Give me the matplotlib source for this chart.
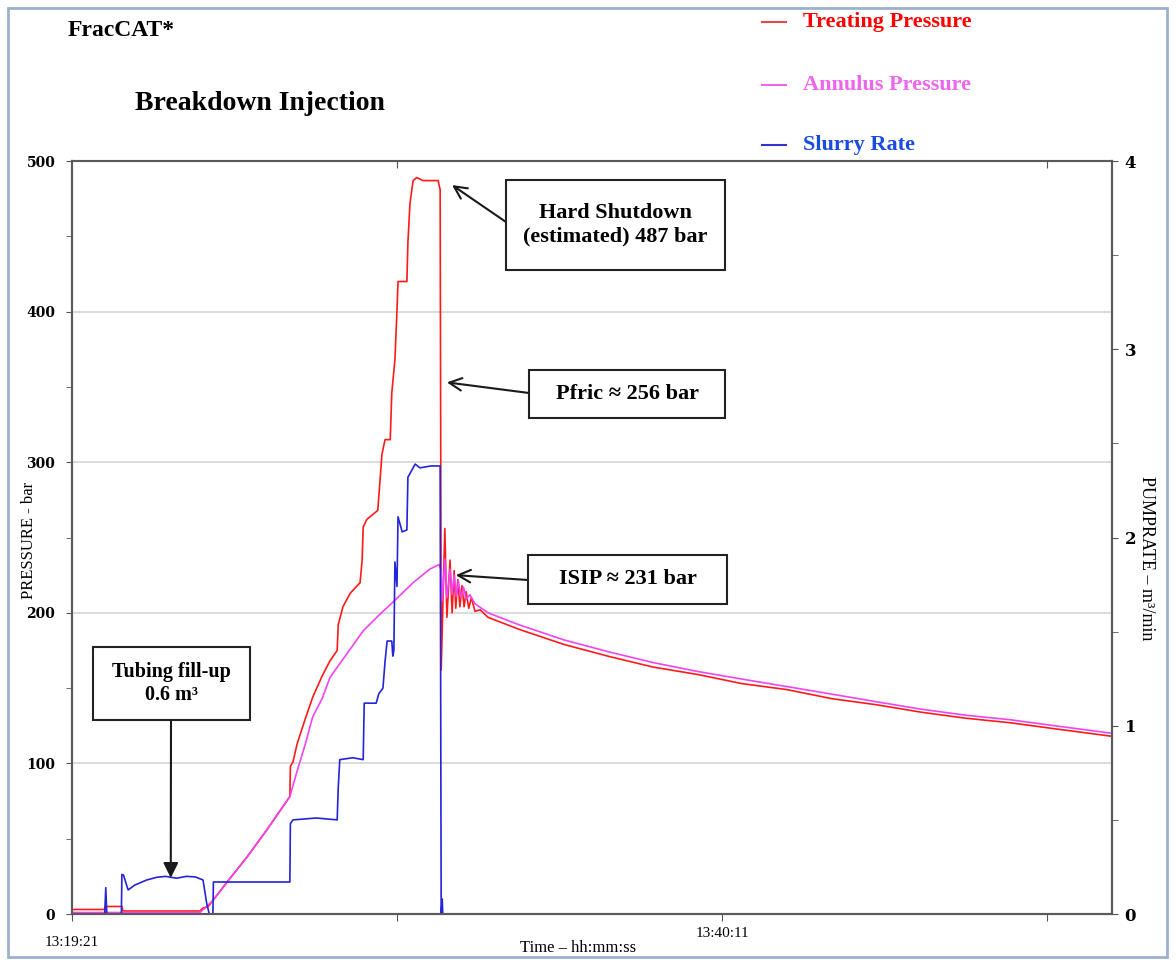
import numpy as np
import matplotlib
matplotlib.use("Agg")
import matplotlib.pyplot as plt
from matplotlib.patches import Rectangle
from matplotlib.lines import Line2D

# time axis in seconds after 13:19:21
t_treat = [0, 62, 64, 96, 98, 246, 252, 262, 271, 300, 337, 375, 419, 420, 425, 433,
           448, 463, 481, 496, 506, 510, 512, 521, 535, 554, 558, 560, 567, 588, 592,
           596, 602, 612, 615, 621, 625, 627, 644, 646, 650, 656, 663, 675, 704, 708,
           710, 717, 721, 727, 731, 735, 738, 742, 746, 750, 754, 758, 763, 768, 775,
           785, 800, 860, 946, 1033, 1117, 1204, 1288, 1375, 1461, 1546, 1633, 1719,
           1804, 1890, 2000]
p_treat = [3, 3, 5, 5, 2, 2, 4, 5, 9, 22, 38, 56, 78, 98, 101, 113,
           129, 144, 158, 168, 173, 175, 192, 204, 213, 220, 235, 257, 262, 268, 286,
           305, 315, 315, 346, 368, 401, 420, 420, 446, 472, 487, 489, 487, 487, 481,
           162, 256, 197, 235, 200, 228, 203, 222, 204, 218, 204, 214, 203, 210, 201,
           202, 197, 189, 179, 171, 164, 159, 153, 149, 143, 139, 134, 130,
           127, 123, 118]

t_ann = [0, 246, 256, 262, 271, 300, 337, 375, 419, 433, 448, 463, 481, 496, 529,
         560, 592, 617, 656, 688, 706, 710, 712, 717, 721, 727, 731, 735, 739, 743,
         748, 753, 758, 765, 775, 800, 860, 946, 1033, 1117, 1204, 1288, 1375, 1461,
         1546, 1633, 1719, 1804, 1890, 2000]
p_ann = [1, 1, 4, 6, 9, 22, 38, 56, 78, 95, 112, 131, 143, 157, 173,
         188, 199, 207, 220, 229, 232, 228, 208, 236, 210, 229, 212, 225, 211, 221,
         210, 217, 209, 212, 206, 200, 192, 182, 174, 167, 161, 156, 151, 146,
         141, 136, 132, 129, 125, 120]

t_rate = [0, 63, 65, 67, 95, 96, 99, 108, 121, 144, 163, 180, 201, 220, 237, 252,
          259, 264, 271, 272, 350, 419, 420, 425, 470, 510, 512, 515, 540, 560, 562,
          585, 590, 598, 602, 606, 615, 617, 619, 621, 625, 627, 635, 644, 646, 654,
          660, 669, 690, 708, 710, 712, 713, 715, 2000]
r_rate = [0, 0, 0.14, 0, 0, 0.21, 0.207, 0.128, 0.154, 0.181, 0.195, 0.2, 0.19, 0.2,
          0.197, 0.181, 0.058, 0, 0, 0.17, 0.17, 0.17, 0.48, 0.5, 0.51, 0.5, 0.67,
          0.82, 0.83, 0.82, 1.12, 1.12, 1.17, 1.2, 1.34, 1.45, 1.45, 1.37, 1.4, 1.87,
          1.74, 2.11, 2.03, 2.04, 2.32, 2.36, 2.39, 2.37, 2.38, 2.38, 0, 0.08, 0, 0, 0]

time_ticks = [0, 625, 1250, 1875]
time_labels = ["13:19:21", "", "13:40:11", ""]

RED = "#FF1A1A"
PINK = "#F044F0"
BLUE = "#2424D8"
SERIF = ["Liberation Serif", "DejaVu Serif"]

plt.rcParams["font.family"] = SERIF

fig = plt.figure(figsize=(11.76, 9.67), dpi=100)
ax = fig.add_axes([0.0612, 0.0548, 0.8844, 0.7787])
ax.plot(t_treat, p_treat, color=RED, lw=1.2, zorder=3)
ax.plot(t_ann, p_ann, color=PINK, lw=1.2, zorder=4)
ax.set_xlim(0, 2000)
ax.set_ylim(0, 500)
ax.set_yticks(np.arange(0, 501, 100))
ax.set_yticks(np.arange(0, 501, 50), minor=True)
ax.yaxis.grid(True, color="#D6D6D6", lw=1.2)
ax.set_axisbelow(True)
ax.set_xticks(time_ticks)
ax.set_xticklabels(time_labels, fontsize=11)
ax.get_xticklabels()[0].set_y(-0.012)
for lab in ax.get_yticklabels():
    lab.set_fontfamily("DejaVu Serif")
    lab.set_fontweight("bold")
    lab.set_fontsize(10)
ax.tick_params(axis="y", which="both", direction="out", length=4, pad=8, color="#555555")
ax.tick_params(axis="x", direction="out", length=5, pad=4, color="#555555")

ax2 = ax.twinx()
ax2.plot(t_rate, r_rate, color=BLUE, lw=1.2)
ax2.set_ylim(0, 4)
ax2.set_yticks(np.arange(0, 4.1, 1))
ax2.set_yticks(np.arange(0, 4.1, 0.5), minor=True)
for lab in ax2.get_yticklabels():
    lab.set_fontfamily("DejaVu Serif")
    lab.set_fontweight("bold")
    lab.set_fontsize(12)
ax2.tick_params(axis="y", which="both", direction="out", length=4, pad=5, color="#555555")

top = ax.secondary_xaxis("top")
top.set_xticks([625, 1875])
top.set_xticklabels(["", ""])
top.tick_params(direction="in", length=5, color="#555555")
top.spines["top"].set_visible(False)

for a in (ax, ax2):
    for s in a.spines.values():
        s.set_color("#5A5A5A")
        s.set_linewidth(1.5)
ax.spines["top"].set_color("#9A9A9A")

# figure frame
fig.add_artist(Rectangle((8 / 1176, 1 - 957 / 967), 1159 / 1176, 949 / 967,
                         transform=fig.transFigure, fill=False,
                         edgecolor="#9DB1CC", lw=2))

fig.text(68 / 1176, 1 - 30 / 967, "FracCAT*", fontsize=17, fontweight="bold",
         va="center", ha="left")
fig.text(260 / 1176, 1 - 104 / 967, "Breakdown Injection", fontsize=20,
         fontweight="bold", va="center", ha="center")

# legend
legend_items = [("Treating Pressure", "#FF0000", "#E84848", 22),
                ("Annulus Pressure", "#EE66EE", "#EE66EE", 85),
                ("Slurry Rate", "#1A4BE0", "#3434CC", 145)]
for name, tcol, lcol, yy in legend_items:
    fig.add_artist(Line2D([762 / 1176, 786 / 1176], [1 - yy / 967, 1 - yy / 967],
                          transform=fig.transFigure, color=lcol, lw=1.5))
    fig.text(803 / 1176, 1 - yy / 967, name, color=tcol, fontsize=16,
             fontweight="bold", va="center", ha="left")

# axis labels
fig.text(29 / 1176, 1 - 540 / 967, "PRESSURE - bar", rotation=90, fontsize=12,
         va="center", ha="center")
fig.text(1146 / 1176, 1 - 558 / 967, "PUMPRATE – m³/min", rotation=270,
         fontsize=13, va="center", ha="center")
fig.text(578 / 1176, 1 - 948 / 967, "Time – hh:mm:ss", fontsize=12,
         va="center", ha="center")

# annotation boxes (x0, y0, x1, y1 in pixels from top-left)
boxes = [((506, 180, 725, 270), "Hard Shutdown\n(estimated) 487 bar", 16),
         ((529, 370, 725, 418), "Pfric ≈ 256 bar", 16),
         ((528, 555, 727, 604), "ISIP ≈ 231 bar", 16),
         ((93, 647, 250, 720), "Tubing fill-up\n0.6 m³", 14.5)]
for (x0, y0, x1, y1), txt, fs in boxes:
    fig.add_artist(Rectangle((x0 / 1176, 1 - y1 / 967), (x1 - x0) / 1176,
                             (y1 - y0) / 967, transform=fig.transFigure,
                             facecolor="white", edgecolor="#222222", lw=1.5,
                             zorder=5))
    fig.text((x0 + x1) / 2 / 1176, 1 - (y0 + y1) / 2 / 967, txt, fontsize=fs,
             fontweight="bold", ha="center", va="center", linespacing=1.25,
             zorder=6)

arrows = [((731, 484), (506, 222), "->"),
          ((721, 353), (529, 393), "->"),
          ((738, 225), (528, 580), "->"),
          ((190, 24), (171, 720), "-|>")]
for (xs, yb), (px, py), style in arrows:
    ax2.annotate("", xy=(xs, yb * 4 / 500), xycoords="data",
                 xytext=(px / 1176, 1 - py / 967), textcoords="figure fraction",
                 arrowprops=dict(arrowstyle=style + ",head_length=0.9,head_width=0.45",
                                 color="#1A1A1A", lw=1.5, shrinkA=0, shrinkB=0))

fig.savefig("out.png", dpi=100)
